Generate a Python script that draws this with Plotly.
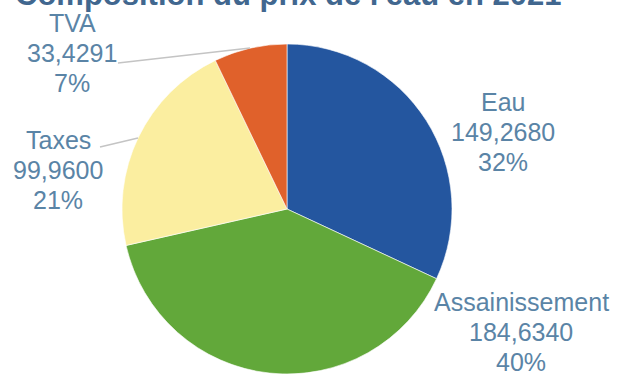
import plotly.graph_objects as go

# ---- data ----
categories = ["Eau", "Assainissement", "Taxes", "TVA"]
values = [149.2680, 184.6340, 99.9600, 33.4291]
value_labels = ["149,2680", "184,6340", "99,9600", "33,4291"]
colors = ["#24569f", "#62a83a", "#fbeea0", "#e0612b"]
title_text = "Composition du prix de l'eau en 2021"

W, H = 617, 375
total = sum(values)
pcts = [f"{round(v / total * 100)}%" for v in values]

fig = go.Figure()
fig.add_trace(go.Pie(
    labels=categories,
    values=values,
    sort=False,
    direction="clockwise",
    rotation=0,
    marker=dict(colors=colors, line=dict(color="rgba(255,255,255,0.6)", width=1)),
    textinfo="none",
    hoverinfo="label+value+percent",
    showlegend=False,
    domain=dict(x=[(287 - 165) / W, (287 + 165) / W],
                y=[1 - 374 / H, 1 - 44 / H]),
))

# label placement (pixel centers of first line, x center)
label_pos = {
    "Eau": (503, 102),
    "Assainissement": (521, 302),
    "Taxes": (58, 140),
    "TVA": (72, 23),
}
line_gap = 30
text_color = "#5a84a6"
annotations = []
for cat, vl, pc in zip(categories, value_labels, pcts):
    px, py = label_pos[cat]
    for i, t in enumerate([cat, vl, pc]):
        annotations.append(dict(
            x=px / W, y=1 - (py + i * line_gap) / H, xref="paper", yref="paper",
            text=t, showarrow=False, xanchor="center", yanchor="middle",
            font=dict(family="Liberation Sans, Arial", size=25, color=text_color),
        ))

# title (partly cut at top)
annotations.append(dict(
    x=288 / W, y=1 + 5 / H, xref="paper", yref="paper",
    text="<b>" + title_text + "</b>", showarrow=False,
    xanchor="center", yanchor="middle",
    font=dict(family="Liberation Sans, Arial", size=31, color="#41678f"),
))

shapes = [
    dict(type="line", xref="paper", yref="paper",
         x0=118 / W, y0=1 - 63 / H, x1=250 / W, y1=1 - 48 / H,
         line=dict(color="#c4c4c4", width=1.5)),
    dict(type="line", xref="paper", yref="paper",
         x0=100 / W, y0=1 - 147 / H, x1=138 / W, y1=1 - 138 / H,
         line=dict(color="#c4c4c4", width=1.5)),
]

fig.update_layout(
    width=W, height=H,
    margin=dict(l=0, r=0, t=0, b=0),
    paper_bgcolor="white", plot_bgcolor="white",
    annotations=annotations,
    shapes=shapes,
)

fig.write_html("out.html",
               config={"displayModeBar": False},
               post_script="document.body.style.margin='0';document.body.style.overflow='hidden';")
